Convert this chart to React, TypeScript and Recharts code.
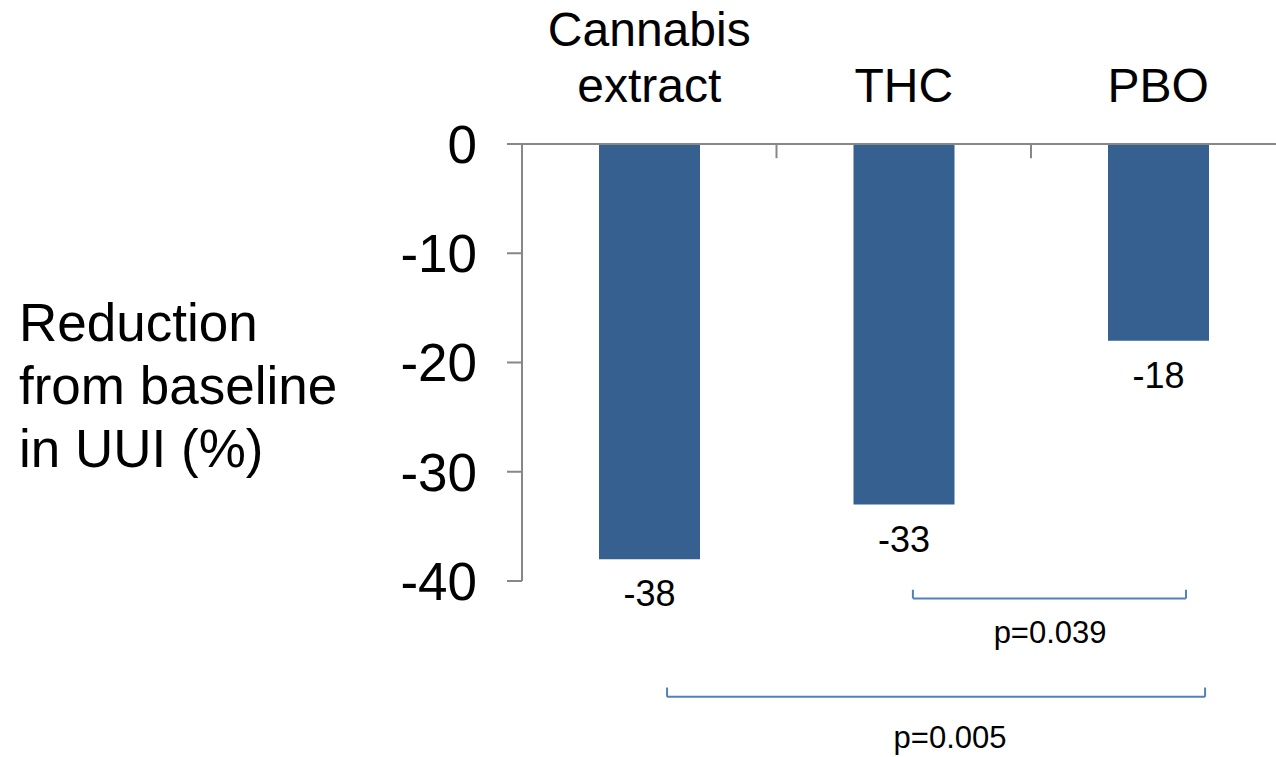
import React from "react";
import {
  Bar,
  BarChart,
  LabelList,
  ReferenceDot,
  ReferenceLine,
  XAxis,
  YAxis,
} from "recharts";

const categories = ["Cannabis extract", "THC", "PBO"];
const reductions = [-38, -33, -18];
const slots = [0.5, 1.5, 2.5];
const yTicks = [0, -10, -20, -30, -40];
// category boundaries that get a small tick mark hanging from the top axis
const boundaryTicks = [1, 2, 3];

// significance brackets, in data units (x = category slot 0..3, y = %)
const bracketStart = [1.536, 0.57];
const bracketEnd = [2.609, 2.684];
const bracketLevel = [-41.6, -50.6];
const bracketTip = [-40.8, -49.75];
const pValues = ["p=0.039", "p=0.005"];
const pValueX = [2.075, 1.682];
const pValueY = [-45.7, -55.3];

const yLabelLines = ["Reduction", "from baseline", "in UUI (%)"];

const data = categories.map((name, i) => ({ name, slot: slots[i], value: reductions[i] }));

const FONT = '"Liberation Sans", Arial, sans-serif';
const AXIS = "#878787";
const BAR = "#36608f";
const BRACKET = "#4f81bd";
const TICK_LEN = 1.3; // in % units, about 14px

function CategoryTick({ x, y, payload }: any) {
  const lines = String(payload.value).split(" ");
  const base = y - 42;
  return (
    <text x={x} textAnchor="middle" fontSize={48} fill="#000" fontFamily={FONT}>
      {lines.map((l, i) => (
        <tspan key={i} x={x} y={base - (lines.length - 1 - i) * 56}>
          {l}
        </tspan>
      ))}
    </text>
  );
}

function ValueLabel({ x, y, width, height, value }: any) {
  const bottom = Math.max(y, y + height);
  return (
    <text x={x + width / 2} y={bottom + 47} textAnchor="middle" fontSize={36} fill="#000" fontFamily={FONT}>
      {value}
    </text>
  );
}

function YTitle({ viewBox }: any) {
  const mid = viewBox.y + viewBox.height / 2 + 41;
  return (
    <text x={19} fontSize={53} fill="#000" fontFamily={FONT}>
      {yLabelLines.map((l, i) => (
        <tspan key={i} x={19} y={mid + (i - 1) * 63}>
          {l}
        </tspan>
      ))}
    </text>
  );
}

export default function App() {
  return (
    <div
      style={{
        position: "absolute",
        left: 0,
        top: 0,
        width: 1276,
        height: 757,
        overflow: "hidden",
        background: "#fff",
      }}
    >
      <BarChart
        width={1300}
        height={757}
        data={data}
        margin={{ top: 34, right: 14.5, left: 0, bottom: 176 }}
        style={{ fontFamily: FONT }}
      >
        <XAxis
          xAxisId="cat"
          dataKey="name"
          orientation="top"
          height={110}
          interval={0}
          axisLine={{ stroke: AXIS, strokeWidth: 2 }}
          tickLine={false}
          tickSize={0}
          tickMargin={0}
          tick={<CategoryTick />}
        />
        <XAxis
          xAxisId="slot"
          dataKey="slot"
          type="number"
          domain={[0, 3]}
          orientation="top"
          mirror
          height={0}
          axisLine={false}
          tickLine={false}
          tick={false}
          allowDataOverflow
        />
        <YAxis
          yAxisId="pct"
          type="number"
          domain={[-40, 0]}
          ticks={yTicks}
          width={522}
          interval={0}
          axisLine={{ stroke: AXIS, strokeWidth: 2 }}
          tickLine={{ stroke: AXIS, strokeWidth: 2 }}
          tickSize={15}
          tickMargin={30}
          tick={{ fontSize: 53, fill: "#000", fontFamily: FONT }}
          label={{ content: <YTitle /> }}
          allowDataOverflow
        />
        <Bar
          xAxisId="cat"
          yAxisId="pct"
          dataKey="value"
          fill={BAR}
          barSize={101}
          isAnimationActive={false}
        >
          <LabelList dataKey="value" content={<ValueLabel />} />
        </Bar>
        {boundaryTicks.map((b) => (
          <ReferenceLine
            key={`t${b}`}
            xAxisId="slot"
            yAxisId="pct"
            ifOverflow="visible"
            stroke={AXIS}
            strokeWidth={2}
            segment={[
              { x: b, y: 0 },
              { x: b, y: -TICK_LEN },
            ]}
          />
        ))}
        {bracketStart.flatMap((x0, i) => [
          <ReferenceLine
            key={`h${i}`}
            xAxisId="slot"
            yAxisId="pct"
            ifOverflow="visible"
            stroke={BRACKET}
            strokeWidth={2}
            segment={[
              { x: x0, y: bracketLevel[i] },
              { x: bracketEnd[i], y: bracketLevel[i] },
            ]}
          />,
          <ReferenceLine
            key={`l${i}`}
            xAxisId="slot"
            yAxisId="pct"
            ifOverflow="visible"
            stroke={BRACKET}
            strokeWidth={2}
            segment={[
              { x: x0, y: bracketLevel[i] },
              { x: x0, y: bracketTip[i] },
            ]}
          />,
          <ReferenceLine
            key={`r${i}`}
            xAxisId="slot"
            yAxisId="pct"
            ifOverflow="visible"
            stroke={BRACKET}
            strokeWidth={2}
            segment={[
              { x: bracketEnd[i], y: bracketLevel[i] },
              { x: bracketEnd[i], y: bracketTip[i] },
            ]}
          />,
          <ReferenceDot
            key={`p${i}`}
            xAxisId="slot"
            yAxisId="pct"
            x={pValueX[i]}
            y={pValueY[i]}
            ifOverflow="visible"
            shape={(p: any) => (
              <text x={p.cx} y={p.cy} textAnchor="middle" fontSize={31} fill="#000" fontFamily={FONT}>
                {pValues[i]}
              </text>
            )}
          />,
        ])}
      </BarChart>
    </div>
  );
}
